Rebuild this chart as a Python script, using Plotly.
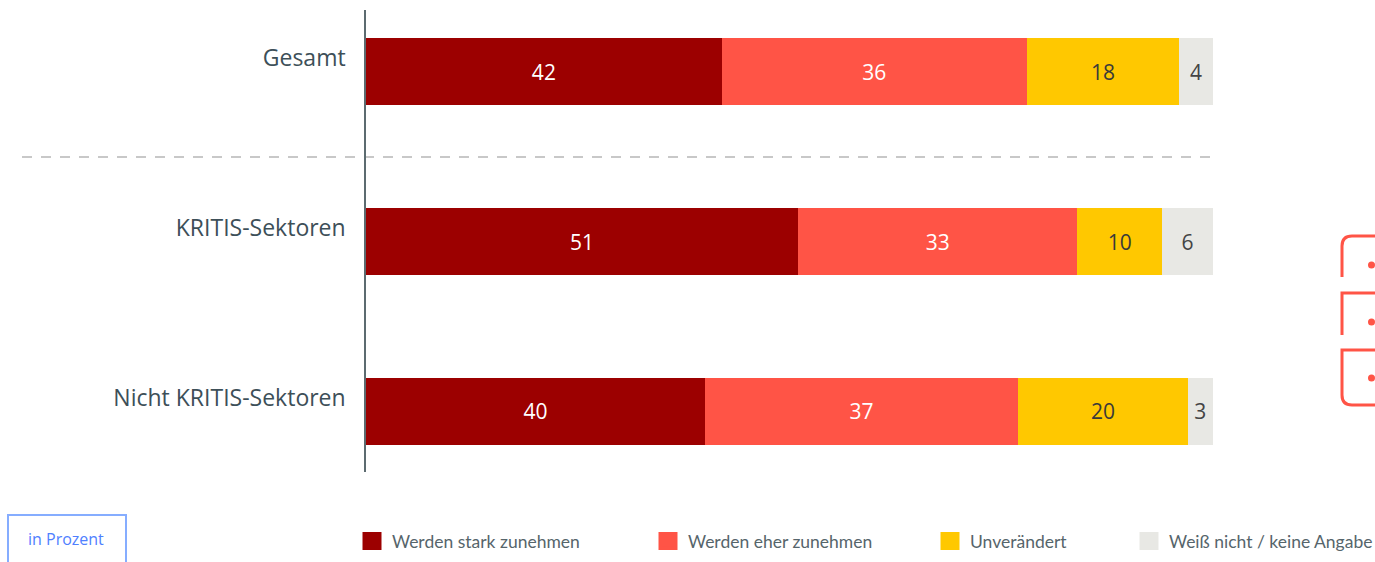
import plotly.graph_objects as go

categories = ["Gesamt", "KRITIS-Sektoren", "Nicht KRITIS-Sektoren"]
series_names = ["Werden stark zunehmen", "Werden eher zunehmen", "Unverändert", "Weiß nicht / keine Angabe"]
stark = [42, 51, 40]
eher = [36, 33, 37]
unveraendert = [18, 10, 20]
weiss_nicht = [4, 6, 3]
unit_label = "in Prozent"

series_values = [stark, eher, unveraendert, weiss_nicht]
colors = ["#9c0000", "#ff5446", "#ffc800", "#e8e8e4"]
text_colors = ["#ffffff", "#ffffff", "#3a3a3a", "#444444"]

W, H = 1375, 562
# plot area in screen pixels
SL, SR, ST, SB = 366, 1213, 10, 472
L, R, T, B = SL, SR, ST, SB


def px(sx):
    return (sx - SL) / (SR - SL)


def py(sy):
    return (SB - sy) / (SB - ST)


legend_ids = ["legend", "legend2", "legend3", "legend4"]
legend_sym_centers = [372, 668, 950, 1149]

fig = go.Figure()
for i, (name, vals) in enumerate(zip(series_names, series_values)):
    fig.add_trace(go.Bar(
        y=categories, x=vals, name=name, orientation="h",
        marker=dict(color=colors[i], line=dict(width=0)),
        width=0.394,
        text=vals, texttemplate="%{x}", textposition="inside",
        insidetextanchor="middle", constraintext="none",
        textangle=0,
        textfont=dict(color=text_colors[i], size=21, family="Open Sans"),
        legend=legend_ids[i],
        hoverinfo="skip",
    ))

layout_legends = {}
for i, lid in enumerate(legend_ids):
    layout_legends[lid] = dict(
        x=px(legend_sym_centers[i] - 20), xanchor="left",
        y=py(541), yanchor="middle",
        orientation="h",
        font=dict(family="Lato", size=17.5, color="#56656b"),
        bgcolor="rgba(0,0,0,0)", borderwidth=0,
    )

shapes = [
    # dashed separator
    dict(type="line", xref="paper", yref="paper",
         x0=px(22), x1=px(1215), y0=py(157), y1=py(157),
         line=dict(color="#c8c8c8", width=2, dash="10px,9px"), layer="below"),
    # unit box
    dict(type="rect", xref="paper", yref="paper",
         x0=px(8), x1=px(126), y0=py(515), y1=py(570),
         line=dict(color="#86adff", width=2)),
]

# enlarge legend swatches (drawn behind the native legend symbols)
for i, cx in enumerate(legend_sym_centers):
    shapes.append(dict(type="rect", xref="paper", yref="paper",
                       x0=px(cx - 9.5), x1=px(cx + 9.5),
                       y0=py(541 + 9), y1=py(541 - 9),
                       fillcolor=colors[i], line=dict(width=0)))

# decorative server icon on the right edge
icon_col = "#ff5446"


def P(x, y):
    return f"{px(x)},{py(y)}"


paths = [
    f"M{P(1342,277)} L{P(1342,246)} Q{P(1342,236)} {P(1352,236)} L{P(1390,236)}",
    f"M{P(1342,335)} L{P(1342,293)} L{P(1390,293)}",
    f"M{P(1390,350)} L{P(1342,350)} L{P(1342,395)} Q{P(1342,405)} {P(1352,405)} L{P(1390,405)}",
]
for p in paths:
    shapes.append(dict(type="path", xref="paper", yref="paper", path=p,
                       line=dict(color=icon_col, width=3)))
for cy in [265, 322, 378]:
    shapes.append(dict(type="circle", xref="paper", yref="paper",
                       x0=px(1368), x1=px(1375), y0=py(cy + 3.5), y1=py(cy - 3.5),
                       fillcolor=icon_col, line=dict(width=0)))

annotations = [
    dict(xref="paper", yref="paper", x=px(66), y=py(539), text=unit_label,
         showarrow=False, xanchor="center", yanchor="middle",
         font=dict(family="Open Sans", size=16, color="#4f80ff")),
]

fig.update_layout(
    width=W, height=H,
    margin=dict(l=L, r=W - R, t=T, b=H - B, autoexpand=False),
    barmode="stack",
    showlegend=True,
    plot_bgcolor="white", paper_bgcolor="white",
    xaxis=dict(visible=False, range=[0, 100], fixedrange=True),
    yaxis=dict(
        categoryorder="array", categoryarray=categories,
        range=[2.356, -0.362],
        showline=True, linecolor="#5c6b70", linewidth=1.5,
        showgrid=False, zeroline=False, ticks="",
        ticklabelstandoff=14, ticklabelshift=14,
        tickfont=dict(family="Open Sans", size=23, color="#3d4f58"),
        fixedrange=True,
    ),
    shapes=shapes,
    annotations=annotations,
    **layout_legends,
)

fig.write_html(
    "out.html",
    config={"displayModeBar": False},
    post_script="document.body.style.margin='0';document.body.style.overflow='hidden';",
)
